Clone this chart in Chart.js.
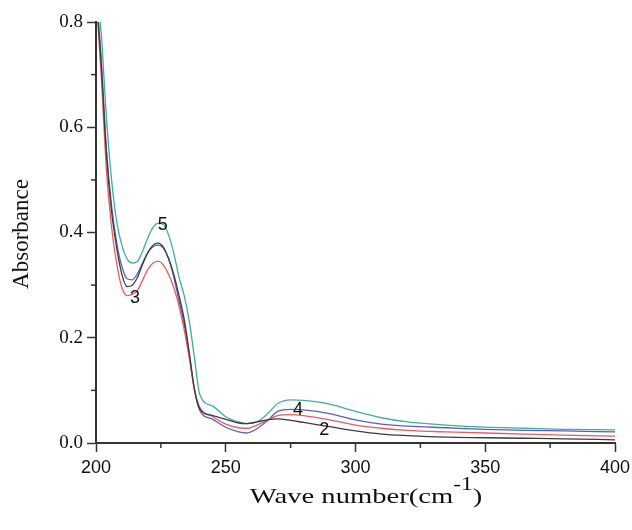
<!DOCTYPE html>
<html>
<head>
<meta charset="utf-8">
<script src="https://cdn.jsdelivr.net/npm/chart.js@4.4.1/dist/chart.umd.min.js"></script>
<style>
  html, body { margin: 0; padding: 0; background: #fff; }
  #wrap { width: 632px; height: 530px; }
</style>
</head>
<body>
<div id="wrap"><canvas id="absChart" width="632" height="530"></canvas></div>
<script>
// Wave number grid shared by all curves
const waveNumbers = [200, 202, 204, 206, 208, 210, 212, 214, 216, 218, 220, 222, 224, 226, 228, 230, 232, 234, 236, 238, 240, 245, 250, 255, 258, 262, 266, 270, 275, 280, 290, 300, 310, 320, 335, 350, 365, 380, 400];

// Absorbance
const curve2 = [0.86, 0.72, 0.55, 0.44, 0.37, 0.32, 0.297, 0.300, 0.315, 0.340, 0.362, 0.376, 0.380, 0.372, 0.350, 0.320, 0.280, 0.235, 0.170, 0.100, 0.065, 0.052, 0.045, 0.038, 0.037, 0.040, 0.044, 0.046, 0.043, 0.039, 0.031, 0.023, 0.017, 0.014, 0.011, 0.010, 0.009, 0.008, 0.006];
const curve3 = [0.85, 0.70, 0.52, 0.41, 0.34, 0.295, 0.280, 0.283, 0.290, 0.310, 0.330, 0.342, 0.345, 0.338, 0.320, 0.295, 0.260, 0.215, 0.160, 0.100, 0.068, 0.050, 0.036, 0.029, 0.028, 0.034, 0.043, 0.052, 0.054, 0.052, 0.044, 0.034, 0.028, 0.024, 0.021, 0.019, 0.017, 0.015, 0.013];
const curve4 = [0.86, 0.73, 0.56, 0.45, 0.38, 0.335, 0.312, 0.310, 0.322, 0.343, 0.362, 0.373, 0.376, 0.370, 0.350, 0.315, 0.270, 0.225, 0.165, 0.100, 0.062, 0.045, 0.030, 0.021, 0.019, 0.027, 0.042, 0.060, 0.064, 0.063, 0.056, 0.044, 0.036, 0.032, 0.029, 0.026, 0.024, 0.023, 0.021];
const curve5 = [0.88, 0.78, 0.62, 0.50, 0.42, 0.375, 0.350, 0.342, 0.345, 0.365, 0.390, 0.410, 0.418, 0.415, 0.395, 0.360, 0.315, 0.280, 0.230, 0.160, 0.092, 0.070, 0.050, 0.040, 0.037, 0.040, 0.055, 0.075, 0.082, 0.081, 0.074, 0.060, 0.048, 0.040, 0.034, 0.030, 0.028, 0.026, 0.025];

// Curve numbers written next to the lines: [text, wave number, absorbance]
const curveLabels = [["5", 225.7, 0.415], ["3", 215, 0.275], ["4", 277.8, 0.063], ["2", 288, 0.025]];

const yTicks = [0, 0.2, 0.4, 0.6, 0.8];
const xTicks = [200, 250, 300, 350, 400];

function toPoints(values) {
    return values.map((v, i) => ({ x: waveNumbers[i], y: v }));
}

function lineSet(values, color) {
    return {
        data: toPoints(values),
        borderColor: color,
        borderWidth: 1.3,
        pointRadius: 0,
        cubicInterpolationMode: "monotone",
        fill: false
    };
}

// minor ticks, curve numbers and axis titles
const extras = {
    id: "extras",
    afterDraw(chart) {
        const ctx = chart.ctx;
        const xs = chart.scales.x;
        const ys = chart.scales.y;
        const area = chart.chartArea;
        ctx.save();
        ctx.strokeStyle = "#333";
        ctx.lineWidth = 1.5;
        for (let v = 225; v < 400; v += 50) {
            const px = xs.getPixelForValue(v);
            ctx.beginPath();
            ctx.moveTo(px, area.bottom);
            ctx.lineTo(px, area.bottom + 5);
            ctx.stroke();
        }
        for (let v = 0.1; v < 0.8; v += 0.2) {
            const py = ys.getPixelForValue(v);
            ctx.beginPath();
            ctx.moveTo(area.left, py);
            ctx.lineTo(area.left - 5, py);
            ctx.stroke();
        }

        ctx.fillStyle = "#111";
        ctx.font = "18px 'Liberation Sans', Arial, sans-serif";
        ctx.textAlign = "center";
        ctx.textBaseline = "middle";
        curveLabels.forEach(([t, x, y]) => {
            ctx.fillText(t, xs.getPixelForValue(x), ys.getPixelForValue(y));
        });

        // y title
        ctx.font = "23px 'Liberation Serif', 'Times New Roman', serif";
        ctx.save();
        ctx.translate(22, 234);
        ctx.rotate(-Math.PI / 2);
        ctx.fillText("Absorbance", 0, 0);
        ctx.restore();

        // x title with superscript
        ctx.save();
        ctx.translate(366, 0);
        ctx.scale(1.3, 1);
        ctx.textBaseline = "alphabetic";
        ctx.textAlign = "left";
        const main = "Wave number(cm";
        const sup = "-1";
        ctx.font = "22px 'Liberation Serif', 'Times New Roman', serif";
        const w1 = ctx.measureText(main).width;
        const w3 = ctx.measureText(")").width;
        ctx.font = "18px 'Liberation Serif', 'Times New Roman', serif";
        const w2 = ctx.measureText(sup).width;
        let x0 = -(w1 + w2 + w3) / 2;
        ctx.font = "22px 'Liberation Serif', 'Times New Roman', serif";
        ctx.fillText(main, x0, 503);
        ctx.font = "18px 'Liberation Serif', 'Times New Roman', serif";
        ctx.fillText(sup, x0 + w1, 490);
        ctx.font = "22px 'Liberation Serif', 'Times New Roman', serif";
        ctx.fillText(")", x0 + w1 + w2, 503);
        ctx.restore();
        ctx.restore();
    }
};

new Chart(document.getElementById("absChart"), {
    type: "line",
    data: {
        datasets: [
            lineSet(curve2, "#3c3c3c"),
            lineSet(curve3, "#ee5a5a"),
            lineSet(curve4, "#5c5cd0"),
            lineSet(curve5, "#3fae9e")
        ]
    },
    options: {
        responsive: false,
        animation: false,
        layout: { padding: { top: 22, right: 17, left: 0, bottom: 0 } },
        plugins: { legend: { display: false }, tooltip: { enabled: false } },
        scales: {
            x: {
                type: "linear",
                min: 200,
                max: 400,
                afterBuildTicks: s => { s.ticks = xTicks.map(v => ({ value: v })); },
                afterFit: s => { s.height = 87; s.paddingLeft = 0; s.paddingRight = 0; },
                border: { display: true, color: "#333", width: 2 },
                grid: { drawOnChartArea: false, drawTicks: true, tickLength: 9, tickColor: "#333", tickWidth: 1.5 },
                ticks: { color: "#111", padding: 5, font: { family: "'Liberation Sans', Arial, sans-serif", size: 18 } }
            },
            y: {
                min: 0,
                max: 0.8,
                afterBuildTicks: s => { s.ticks = yTicks.map(v => ({ value: v })); },
                afterFit: s => { s.width = 96; s.paddingTop = 0; s.paddingBottom = 0; },
                border: { display: true, color: "#333", width: 2 },
                grid: { drawOnChartArea: false, drawTicks: true, tickLength: 9, tickColor: "#333", tickWidth: 1.5 },
                ticks: {
                    color: "#111",
                    padding: 4,
                    font: { family: "'Liberation Serif', 'Times New Roman', serif", size: 19 },
                    callback: v => v.toFixed(1)
                }
            }
        }
    },
    plugins: [extras]
});
</script>
</body>
</html>
